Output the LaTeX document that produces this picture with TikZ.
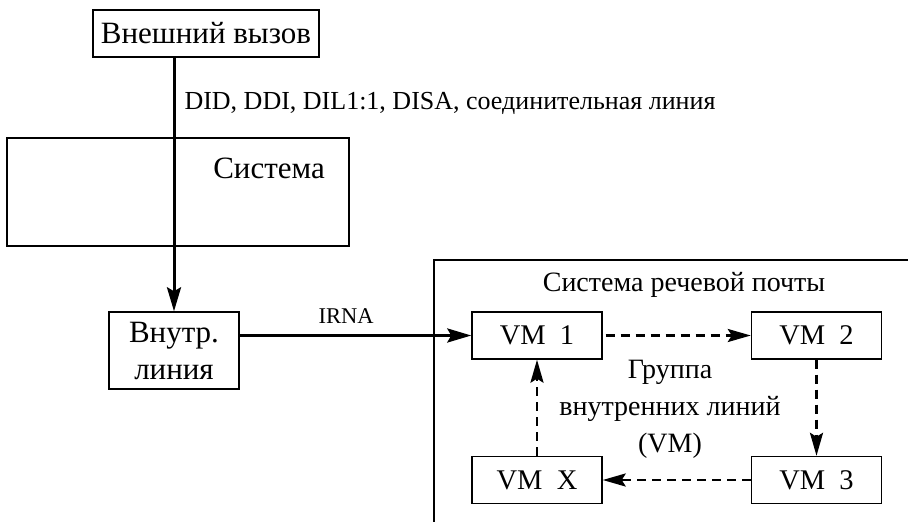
\documentclass[tikz,border=0pt]{standalone}
\usepackage{fontspec}
\setmainfont{Liberation Serif}
\usetikzlibrary{arrows.meta}

\tikzset{
  box/.style={draw, line width=1.4pt, inner sep=0pt, align=center},
  bigtext/.style={font=\fontsize{31}{37}\selectfont},
  midtext/.style={font=\fontsize{28}{37}\selectfont},
  vmtext/.style={font=\fontsize{28.5}{32}\selectfont},
  vmbox/.style={box, vmtext, minimum width=130pt, minimum height=47pt},
  flow/.style={line width=3pt, -{Stealth[length=24pt,width=14pt,inset=4pt]}},
  hop/.style={line width=2.7pt, dash pattern=on 9pt off 6pt,
    -{Stealth[length=23pt,width=13pt,inset=4pt]}},
}

\begin{document}
\begin{tikzpicture}[x=1pt,y=-1pt]
\useasboundingbox (0,0) rectangle (908,522);

% external call and the system
\node[box, bigtext, minimum width=226pt, minimum height=47pt] (ext) at (206,33.5) {Внешний вызов};
\node[box, minimum width=342pt, minimum height=108pt] (sys) at (178,192) {};
\node[bigtext, anchor=center] (systitle) at (269,168) {Система};
\node[font=\fontsize{26}{30}\selectfont, anchor=base west] (lines) at (181,109) {DID, DDI, DIL1:1, DISA, соединительная линия};

% extension receiving the call
\node[box, bigtext, minimum width=130pt, minimum height=77pt] (inner) at (174,350.5) {Внутр.\\линия};

% voice mail system frame
\draw[line width=1.4pt] (434,522) -- (434,260) -- (908,260);
\node[midtext] (vmtitle) at (684,285) {Система речевой почты};

\node[vmbox] (vm1) at (537,335.5) {VM\ \ 1};
\node[vmbox] (vm2) at (816.5,335.5) {VM\ \ 2};
\node[vmbox] (vmx) at (537,480) {VM\ \ X};
\node[vmbox] (vm3) at (816.5,480) {VM\ \ 3};

\node[midtext, align=center] (group) at (670,409) {Группа\\внутренних линий\\(VM)};

% connectors
\draw[flow] (ext.south -| inner.north) -- (inner.north);
\draw[flow] (vm1.west -| inner.east) -- node[above=7pt, font=\fontsize{22.5}{26}\selectfont, pos=0.46] (irna) {IRNA} (vm1.west);

\draw[hop, shorten <=3pt] (vm1) -- (vm2);
\draw[hop] (vm2) -- (vm3);
\draw[hop] (vm3) -- (vmx);
\draw[hop] (vmx) -- (vm1);
\end{tikzpicture}
\end{document}
